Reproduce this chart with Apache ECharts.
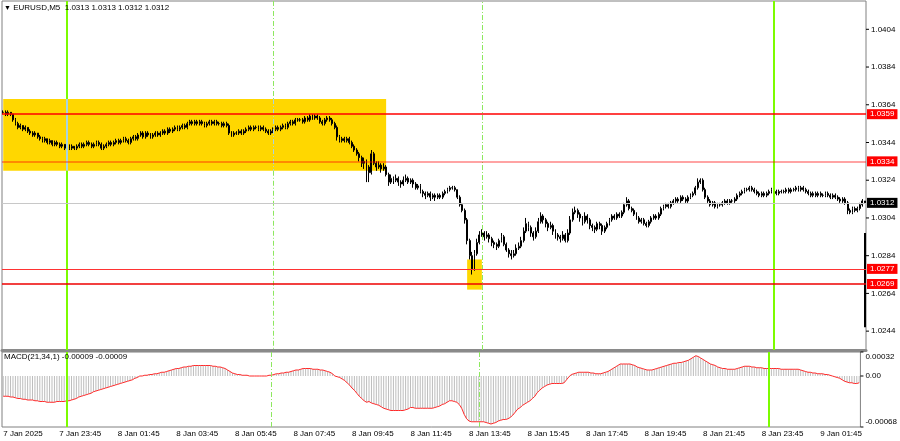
<!DOCTYPE html>
<html><head><meta charset="utf-8">
<script src="https://cdn.jsdelivr.net/npm/echarts@6/dist/echarts.min.js"></script>
<style>html,body{margin:0;padding:0;background:#fff}#c{width:900px;height:441px}</style>
</head><body><div id="c"></div>
<script>
// prices in pips: value p means 1 + p/10000
const opens=[360,360,359,360,359,356,354,352,353,351,
352,350,349,348,349,347,346,345,346,344,
345,343,344,343,342,343,341,342,341,342,
341,342,343,342,343,344,343,342,343,344,
343,341,342,343,344,343,344,345,344,345,
346,345,344,346,347,346,348,349,347,349,
348,347,348,349,348,349,350,349,351,350,
351,352,351,352,353,352,354,355,354,355,
354,355,354,353,354,355,354,355,354,354,
353,354,353,349,348,349,349,350,349,350,
351,352,351,352,352,351,352,351,350,349,
350,351,352,351,352,353,352,354,355,354,
356,356,356,355,357,356,358,357,358,357,
355,354,356,357,356,354,352,347,345,346,
345,346,344,342,340,338,336,333,334,331,
328,338,333,331,332,330,331,327,323,325,
324,325,323,322,324,325,323,324,322,320,
321,318,317,316,317,315,316,315,316,315,
317,318,319,320,320,319,315,311,308,303,
292,284,277,285,291,295,296,294,295,293,
291,290,289,292,294,290,287,285,284,285,
288,289,292,297,301,299,296,294,297,302,
305,303,301,299,300,297,295,294,293,295,
292,296,303,307,308,306,304,302,305,303,
300,299,298,301,300,297,299,301,303,305,
304,306,305,307,311,313,309,308,306,304,
302,303,301,300,302,304,305,304,306,309,
310,311,310,312,313,314,313,315,314,313,
315,316,317,320,323,324,319,315,313,311,
312,310,311,311,312,313,312,313,313,314,
316,317,318,319,319,320,319,318,317,316,
317,316,317,318,319,318,317,318,318,318,
319,318,319,319,320,319,320,319,318,317,
316,317,316,317,316,316,317,316,315,316,
315,314,313,314,312,308,307,309,308,309,
311,313];
const closes=[360,359,360,359,356,354,352,353,351,352,
350,349,348,349,347,346,345,346,344,345,
343,344,343,342,343,341,342,341,342,341,
342,343,342,343,344,343,342,343,344,343,
341,342,343,344,343,344,345,344,345,346,
345,344,346,347,346,348,349,347,349,348,
347,348,349,348,349,350,349,351,350,351,
352,351,352,353,352,354,355,354,355,354,
355,354,353,354,355,354,355,354,354,353,
354,353,349,348,349,349,350,349,350,351,
352,351,352,352,351,352,351,350,349,350,
351,352,351,352,353,352,354,355,354,356,
356,356,355,357,356,358,357,358,357,355,
354,356,357,356,354,352,347,345,346,345,
346,344,342,340,338,336,333,334,331,328,
338,333,331,332,330,331,327,323,325,324,
325,323,322,324,325,323,324,322,320,321,
318,317,316,317,315,316,315,316,315,317,
318,319,320,320,319,315,311,308,303,292,
284,277,285,291,295,296,294,295,293,291,
290,289,292,294,290,287,285,284,285,288,
289,292,297,301,299,296,294,297,302,305,
303,301,299,300,297,295,294,293,295,292,
296,303,307,308,306,304,302,305,303,300,
299,298,301,300,297,299,301,303,305,304,
306,305,307,311,313,309,308,306,304,302,
303,301,300,302,304,305,304,306,309,310,
311,310,312,313,314,313,315,314,313,315,
316,317,320,323,324,319,315,313,311,312,
310,311,311,312,313,312,313,313,314,316,
317,318,319,319,320,319,318,317,316,317,
316,317,318,319,318,317,318,318,318,319,
318,319,319,320,319,320,319,318,317,316,
317,316,317,316,316,317,316,315,316,315,
314,313,314,312,308,307,309,308,309,311,
313,312];
const highs=[361,361,361,360,359,357,355,354,353,353,
352,351,350,350,349,348,347,347,346,346,
345,345,345,344,344,343,343,343,343,342,
343,344,344,344,345,345,344,344,345,345,
344,343,344,345,345,345,346,346,346,347,
347,346,347,348,348,349,350,350,350,350,
349,349,350,350,350,351,351,352,352,352,
353,353,353,354,354,355,356,356,356,356,
356,356,355,355,356,356,356,356,355,355,
355,355,354,350,350,350,351,351,351,352,
353,353,353,353,353,353,353,352,351,351,
352,353,353,353,354,354,355,356,356,357,
357,357,357,358,358,359,359,359,359,358,
356,357,358,358,357,355,353,348,347,347,
347,347,345,343,341,339,337,336,335,332,
340,339,334,334,333,333,332,328,327,326,
327,326,324,326,327,326,325,325,323,322,
322,319,318,318,318,317,317,317,317,318,
319,320,321,321,321,319,316,312,309,304,
293,286,287,293,297,298,297,297,296,294,
292,291,293,296,295,291,288,287,287,290,
291,294,299,304,302,300,297,299,304,307,
306,304,302,302,301,298,296,295,297,296,
298,305,309,310,309,307,305,307,306,304,
301,300,302,302,301,300,302,304,306,306,
307,307,308,312,315,314,310,309,307,305,
304,304,302,303,305,306,306,307,310,311,
312,312,313,314,315,315,316,316,315,316,
317,318,321,325,325,325,320,316,314,313,
313,312,312,313,314,314,314,314,315,317,
318,319,320,320,321,321,320,319,318,318,
318,318,319,320,320,319,319,319,319,320,
320,320,320,321,321,321,321,320,319,318,
318,318,318,318,317,318,318,317,317,317,
316,315,315,315,313,309,310,310,310,312,
314,313];
const lows=[359,358,358,358,355,353,351,351,350,350,
349,348,347,347,346,345,344,344,343,343,
342,342,342,341,341,340,340,340,340,340,
340,341,341,341,342,342,341,341,342,342,
340,340,341,342,342,342,343,343,343,344,
344,343,343,345,345,345,347,346,346,347,
346,346,347,347,347,348,348,348,349,349,
350,350,350,351,351,351,353,353,353,353,
353,353,352,352,353,353,353,353,353,352,
352,352,348,347,347,348,348,348,348,349,
350,350,350,351,350,350,350,349,348,348,
349,350,350,350,351,351,351,353,353,353,
355,355,354,354,355,355,356,356,356,354,
353,353,355,355,353,351,345,344,344,344,
344,343,341,339,337,334,331,330,323,323,
327,332,329,330,328,329,326,321,322,322,
323,321,320,321,323,322,322,320,319,319,
317,315,314,315,313,314,313,314,314,314,
316,317,318,319,318,314,310,307,301,290,
282,274,276,284,290,294,292,293,291,289,
288,287,288,291,289,286,283,282,283,284,
287,288,291,296,297,294,292,293,296,301,
301,299,297,298,295,293,292,291,292,291,
291,295,302,306,304,302,300,301,301,298,
297,296,297,298,295,296,298,300,302,303,
303,304,304,306,310,308,307,305,303,301,
301,300,299,299,301,303,303,303,305,308,
309,309,309,311,312,312,312,313,312,312,
314,315,316,319,322,318,314,312,310,310,
309,309,310,310,311,311,311,312,312,313,
315,316,317,318,318,318,317,316,315,315,
315,315,316,317,317,316,316,317,317,317,
317,317,318,318,318,318,318,317,316,315,
315,315,315,315,315,315,315,314,314,314,
313,312,312,311,306,306,306,307,307,308,
310,312];
// MACD(21,34,1) main value per bar, units of 0.00001
const macd=[-27,-27,-27,-28,-28,-29,-30,-30,-31,-31,
-32,-32,-32,-33,-33,-34,-34,-34,-35,-35,
-35,-35,-34,-34,-34,-34,-33,-33,-32,-31,
-30,-28,-27,-26,-25,-24,-23,-21,-20,-19,
-18,-17,-16,-15,-14,-13,-12,-11,-10,-9,
-8,-7,-6,-5,-3,-2,0,0,1,1,
2,2,3,3,4,5,5,6,7,8,
9,10,10,11,12,12,13,13,14,14,
14,14,14,14,14,14,13,13,12,12,
11,10,8,6,4,3,2,2,1,1,
1,0,0,0,0,0,0,0,0,1,
1,2,3,3,4,4,5,5,6,7,
8,8,9,10,10,10,10,9,9,9,
8,8,7,6,5,3,0,-1,-2,-4,
-6,-9,-12,-16,-19,-23,-27,-30,-33,-35,
-34,-36,-37,-38,-39,-41,-43,-44,-45,-46,
-46,-46,-46,-46,-46,-45,-44,-42,-42,-43,
-43,-43,-43,-43,-43,-43,-43,-42,-41,-40,
-38,-37,-35,-33,-33,-34,-35,-38,-43,-51,
-57,-60,-61,-61,-61,-61,-61,-61,-62,-63,
-64,-63,-62,-60,-59,-58,-58,-57,-55,-52,
-48,-44,-42,-39,-37,-35,-33,-30,-27,-22,
-19,-16,-14,-12,-11,-10,-10,-10,-10,-10,
-9,-5,-1,2,3,4,5,5,5,5,
5,4,4,3,3,3,4,5,6,8,
10,12,14,16,16,16,16,16,15,14,
12,11,10,9,8,8,8,9,10,11,
12,13,14,15,16,17,17,18,18,19,
20,21,23,25,27,26,24,22,20,18,
16,15,14,12,11,10,10,9,9,9,
9,10,11,12,13,13,13,12,12,11,
11,11,10,10,10,10,10,10,10,9,
9,9,9,9,9,9,9,8,7,6,
5,5,4,4,3,3,3,2,2,1,
0,-1,-2,-3,-5,-7,-8,-9,-9,-10,
-10,-9];
const timeLabelBars=[0,23,47,71,95,119,143,167,191,215,239,263,287,311,335];
const timeLabels=['7 Jan 2025','7 Jan 23:45','8 Jan 01:45','8 Jan 03:45','8 Jan 05:45','8 Jan 07:45','8 Jan 09:45','8 Jan 11:45','8 Jan 13:45','8 Jan 15:45','8 Jan 17:45','8 Jan 19:45','8 Jan 21:45','8 Jan 23:45','9 Jan 01:45'];
const priceTickPips=[244,264,284,304,324,344,364,384,404];
const priceTickLabels=['1.0244','1.0264','1.0284','1.0304','1.0324','1.0344','1.0364','1.0384','1.0404'];
const priceRange=[234,419];
const macdTickVals=[-68,0,32];
const macdTickLabels=['-0.00068','0.00','0.00032'];
const levelLines=[359,334,277,269];
const levelLabels=['1.0359','1.0334','1.0277','1.0269'];
const bidLevel=312, bidLabel='1.0312';
const rectA=[0,156,367,329];   // bars from..to, top..bottom (pips)
const rectB=[189,195,282,266];
const daySepBars=[26,314];
const sessionBars=[110,195];
const edgeStroke=[351,296,246]; // bar, top, bottom (pips) of the black stroke at the right edge
const headerText='EURUSD,M5  1.0313 1.0313 1.0312 1.0312';
const macdText='MACD(21,34,1) -0.00009 -0.00009';

const FONT='Liberation Sans';
const cats=closes.map((_,i)=>String(i));
const candles=closes.map((c,i)=>[opens[i],c,lows[i],highs[i]]);
const labelMap={};timeLabelBars.forEach((b,k)=>labelMap[b]=timeLabels[k]);
const chart=echarts.init(document.getElementById('c'));

const levelStyles=[
 {color:'#ff0000',width:1.5},
 {color:'rgba(255,0,0,0.36)',width:2},
 {color:'#ff3333',width:1.2},
 {color:'#ee0000',width:1.6}
];
const tagLabel=(txt,bg)=>({show:true,position:'end',distance:1,formatter:txt,backgroundColor:bg,color:'#fff',fontSize:8,fontFamily:FONT,padding:[1,3,1,3]});
const hLines=levelLines.map((v,k)=>({yAxis:v,lineStyle:Object.assign({type:'solid'},levelStyles[k]),label:tagLabel(levelLabels[k],'#ff0000')}));
hLines.unshift({yAxis:bidLevel,lineStyle:{color:'#c8c8c8',width:1,type:'solid'},label:tagLabel(bidLabel,'#000')});
const dashPat=[5,2,1,2];
const solidStyle={color:'#7cfc00',width:2,type:'solid'};
const dashStyle={color:'#8ee860',width:1,type:dashPat};
const solidIn={color:'#a8d4e0',width:2,type:'solid'};
const dashIn={color:'#a8d4e0',width:1,type:dashPat};
const seg=(b,y0,y1,st)=>[{xAxis:b,yAxis:y0,lineStyle:st,label:{show:false}},{xAxis:b,yAxis:y1}];
// main-pane vertical lines: split where they cross the big rectangle
const mainV=[];
const addV=(b,st,stIn)=>{
 if(b>=rectA[0]&&b<=rectA[1]){
  mainV.push(seg(b,priceRange[1],rectA[2],st));
  mainV.push(seg(b,rectA[2],rectA[3],stIn));
  mainV.push(seg(b,rectA[3],priceRange[0],st));
 } else mainV.push({xAxis:b,lineStyle:st,label:{show:false}});
};
daySepBars.forEach(b=>addV(b,solidStyle,solidIn));
sessionBars.forEach(b=>addV(b,dashStyle,dashIn));
mainV.push(seg(edgeStroke[0],edgeStroke[1],edgeStroke[2],{color:'#000',width:2,type:'solid'}));
const macdV=[];
daySepBars.forEach(b=>macdV.push({xAxis:b,lineStyle:solidStyle,label:{show:false}}));
sessionBars.forEach(b=>macdV.push({xAxis:b,lineStyle:dashStyle,label:{show:false}}));

const tickRich={t:{width:3,height:1,backgroundColor:'#000',verticalAlign:'middle'},
 v:{fontSize:8,fontFamily:FONT,color:'#000',padding:[0,0,0,2]},
 u:{fontSize:8,fontFamily:FONT,color:'#000',padding:[9,0,0,2]},
 b:{fontSize:8,fontFamily:FONT,color:'#000',padding:[0,0,10,2]}};

chart.setOption({
 animation:false,
 backgroundColor:'#fff',
 textStyle:{fontFamily:FONT},
 title:[
  {text:'{a|▼} '+headerText,left:4,top:4,padding:0,textStyle:{fontSize:8,fontWeight:'normal',color:'#000',fontFamily:FONT,rich:{a:{fontSize:7,color:'#000'}}}},
  {text:macdText,left:4,top:353,padding:0,textStyle:{fontSize:8,fontWeight:'normal',color:'#000',fontFamily:FONT}}
 ],
 grid:[
  {left:2,right:34,top:1,height:349,show:true,borderColor:'#808080',borderWidth:1},
  {left:2,right:34,top:352,height:75,show:true,borderColor:'#808080',borderWidth:1}
 ],
 xAxis:[
  {type:'category',gridIndex:0,data:cats,boundaryGap:true,axisLine:{show:true,lineStyle:{color:'#8a8a8a',width:3}},axisTick:{show:false},axisLabel:{show:false},splitLine:{show:false}},
  {type:'category',gridIndex:1,data:cats,boundaryGap:true,axisLine:{show:false},axisTick:{show:false},splitLine:{show:false},
   axisLabel:{show:true,interval:(i)=>labelMap[i]!==undefined,formatter:(v,i)=>labelMap[i]||'',align:'left',margin:3,fontSize:8,color:'#000',fontFamily:FONT}}
 ],
 yAxis:[
  {type:'value',gridIndex:0,position:'right',min:priceRange[0],max:priceRange[1],interval:1,axisLine:{show:false},axisTick:{show:false},splitLine:{show:false},
   axisLabel:{margin:0,formatter:(v)=>{const p=Math.round(v);const k=priceTickPips.indexOf(p);return k<0?'':'{t|}{v|'+priceTickLabels[k]+'}';},rich:tickRich}},
  {type:'value',gridIndex:1,position:'right',min:-68,max:32,interval:4,axisLine:{show:false},axisTick:{show:false},splitLine:{show:false},
   axisLabel:{margin:0,formatter:(v)=>{const p=Math.round(v);const k=macdTickVals.indexOf(p);if(k<0)return '';const st=p>0?'u':(p<0?'b':'v');return '{t|}{'+st+'|'+macdTickLabels[k]+'}';},rich:tickRich}}
 ],
 series:[
  {type:'line',xAxisIndex:0,yAxisIndex:0,data:[],z:1,silent:true,
   markArea:{silent:true,z:1,itemStyle:{color:'#ffd700'},data:[
    [{xAxis:rectA[0],yAxis:rectA[2]},{xAxis:rectA[1],yAxis:rectA[3]}],
    [{xAxis:rectB[0],yAxis:rectB[2]},{xAxis:rectB[1],yAxis:rectB[3]}]
   ]}},
  {type:'line',xAxisIndex:0,yAxisIndex:0,data:[],z:2,silent:true,clip:false,
   markLine:{silent:true,symbol:'none',animation:false,data:mainV.concat(hLines)}},
  {type:'candlestick',xAxisIndex:0,yAxisIndex:0,data:candles,z:4,barWidth:1.4,
   itemStyle:{color:'#ffffff',color0:'#000000',borderColor:'#000000',borderColor0:'#000000',borderWidth:1}},
  {type:'bar',xAxisIndex:1,yAxisIndex:1,data:macd,barWidth:1,itemStyle:{color:'#bdbdbd'},silent:true,z:2},
  {type:'line',xAxisIndex:1,yAxisIndex:1,data:macd,symbol:'none',lineStyle:{color:'#ff2a2a',width:1},silent:true,z:4},
  {type:'line',xAxisIndex:1,yAxisIndex:1,data:[],z:3,silent:true,
   markLine:{silent:true,symbol:'none',animation:false,data:macdV}}
 ]
});
</script></body></html>
